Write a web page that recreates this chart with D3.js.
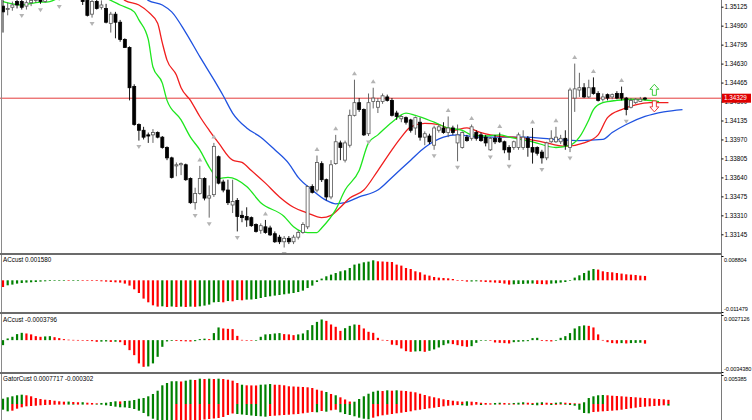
<!DOCTYPE html>
<html>
<head>
<meta charset="utf-8">
<script src="https://cdn.jsdelivr.net/npm/d3@7"></script>
<style>
  body { margin: 0; background: #fff; }
  svg { display: block; font-family: "Liberation Sans", Arial, sans-serif; }
</style>
</head>
<body>
<script>
// price candles, bar 0 is the first bar at the left edge
var opens = [
  1.3513, 1.3510, 1.3512, 1.3517, 1.3517, 1.3513, 1.3516, 1.3518, 1.3521, 1.3517,
  1.3522, 1.3525, 1.3524, 1.3527, 1.3530, 1.3529, 1.3532, 1.3527, 1.3518, 1.3506,
  1.3517, 1.3512, 1.3511, 1.3498, 1.3506, 1.3499, 1.3484, 1.3477, 1.3443, 1.3410,
  1.3405, 1.3401, 1.3401, 1.3403, 1.3399, 1.3390, 1.3381, 1.3374, 1.3375, 1.3375,
  1.3363, 1.3342, 1.3350, 1.3363, 1.3346, 1.3349, 1.3382, 1.3360, 1.3353, 1.3340,
  1.3344, 1.3331, 1.3330, 1.3329, 1.3323, 1.3318, 1.3321, 1.3320, 1.3315, 1.3312,
  1.3308, 1.3311, 1.3308, 1.3312, 1.3316, 1.3321, 1.3356, 1.3353, 1.3376, 1.3362,
  1.3347, 1.3376, 1.3394, 1.3379, 1.3392, 1.3418, 1.3429, 1.3423, 1.3402, 1.3430,
  1.3425, 1.3430, 1.3434, 1.3431, 1.3420, 1.3415, 1.3416, 1.3414, 1.3407, 1.3412,
  1.3399, 1.3400, 1.3392, 1.3405, 1.3407, 1.3403, 1.3407, 1.3394, 1.3390, 1.3399,
  1.3398, 1.3403, 1.3401, 1.3399, 1.3388, 1.3398, 1.3398, 1.3395, 1.3390, 1.3390,
  1.3390, 1.3390, 1.3398, 1.3390, 1.3390, 1.3386, 1.3381, 1.3395, 1.3395, 1.3395,
  1.3398, 1.3390, 1.3433, 1.3440, 1.3442, 1.3434, 1.3442, 1.3437, 1.3432, 1.3436,
  1.3434, 1.3437, 1.3437, 1.3433, 1.3425, 1.3429, 1.3430, 1.34330
];
var highs = [
  1.3527, 1.3516, 1.3517, 1.3523, 1.3521, 1.3518, 1.3522, 1.3525, 1.3525, 1.3524,
  1.3529, 1.3531, 1.3530, 1.3534, 1.3536, 1.3536, 1.3537, 1.3532, 1.3524, 1.3520,
  1.3522, 1.3518, 1.3515, 1.3508, 1.3508, 1.3501, 1.3485, 1.3478, 1.3445, 1.3411,
  1.3408, 1.3403, 1.3406, 1.3404, 1.3400, 1.3391, 1.3382, 1.3377, 1.3377, 1.3376,
  1.3364, 1.3355, 1.3374, 1.3364, 1.3357, 1.3394, 1.3383, 1.3362, 1.3362, 1.3362,
  1.3346, 1.3335, 1.3338, 1.3330, 1.3324, 1.3324, 1.3327, 1.3322, 1.3317, 1.3314,
  1.3313, 1.3313, 1.3314, 1.3318, 1.3325, 1.3357, 1.3358, 1.3383, 1.3378, 1.3363,
  1.3379, 1.3401, 1.3396, 1.3396, 1.3423, 1.3449, 1.3433, 1.3424, 1.3437, 1.3442,
  1.3433, 1.3437, 1.3436, 1.3433, 1.3422, 1.3418, 1.3417, 1.3415, 1.3417, 1.3416,
  1.3404, 1.3402, 1.3409, 1.3410, 1.3412, 1.3417, 1.3409, 1.3410, 1.3404, 1.3401,
  1.3410, 1.3405, 1.3403, 1.3401, 1.3399, 1.3401, 1.3403, 1.3396, 1.3392, 1.3396,
  1.3403, 1.3405, 1.3400, 1.3407, 1.3391, 1.3388, 1.3395, 1.3405, 1.3408, 1.3401,
  1.3405, 1.3442, 1.3463, 1.3455, 1.3446, 1.3449, 1.3451, 1.3439, 1.3437, 1.3437,
  1.3437, 1.3439, 1.3443, 1.3434, 1.3433, 1.3433, 1.3434, 1.3434
];
var lows = [
  1.3490, 1.3505, 1.3509, 1.3511, 1.3510, 1.3510, 1.3513, 1.3516, 1.3515, 1.3516,
  1.3519, 1.3520, 1.3518, 1.3522, 1.3525, 1.3524, 1.3525, 1.3514, 1.3504, 1.3503,
  1.3510, 1.3510, 1.3498, 1.3490, 1.3485, 1.3482, 1.3477, 1.3431, 1.3409, 1.3396,
  1.3397, 1.3394, 1.3394, 1.3398, 1.3389, 1.3379, 1.3363, 1.3365, 1.3366, 1.3361,
  1.3341, 1.3336, 1.3349, 1.3344, 1.3329, 1.3347, 1.3358, 1.3351, 1.3340, 1.3333,
  1.3317, 1.3325, 1.3321, 1.3321, 1.3316, 1.3315, 1.3315, 1.3313, 1.3307, 1.3306,
  1.3303, 1.3306, 1.3306, 1.3310, 1.3315, 1.3319, 1.3350, 1.3351, 1.3360, 1.3344,
  1.3345, 1.3375, 1.3379, 1.3377, 1.3390, 1.3417, 1.3421, 1.3400, 1.3400, 1.3424,
  1.3420, 1.3428, 1.3430, 1.3417, 1.3414, 1.3412, 1.3410, 1.3403, 1.3401, 1.3396,
  1.3392, 1.3393, 1.3388, 1.3403, 1.3402, 1.3399, 1.3401, 1.3378, 1.3389, 1.3395,
  1.3396, 1.3396, 1.3395, 1.3391, 1.3387, 1.3393, 1.3394, 1.3385, 1.3379, 1.3388,
  1.3388, 1.3388, 1.3382, 1.3376, 1.3383, 1.3376, 1.3379, 1.3394, 1.3394, 1.3393,
  1.3388, 1.3386, 1.3421, 1.3434, 1.3433, 1.3433, 1.3436, 1.3430, 1.3430, 1.3431,
  1.3432, 1.3432, 1.3431, 1.3418, 1.3424, 1.3428, 1.3430, 1.3431
];
var closes = [
  1.3508, 1.3511, 1.3514, 1.3514, 1.3512, 1.3516, 1.3518, 1.3520, 1.3517, 1.3522,
  1.3525, 1.3524, 1.3527, 1.3530, 1.3529, 1.3532, 1.3527, 1.3517, 1.3505, 1.3517,
  1.3511, 1.3514, 1.3499, 1.3506, 1.3499, 1.3484, 1.3477, 1.3442, 1.3410, 1.3405,
  1.3399, 1.3400, 1.3403, 1.3399, 1.3390, 1.3381, 1.3364, 1.3375, 1.3376, 1.3362,
  1.3342, 1.3350, 1.3363, 1.3346, 1.3348, 1.3391, 1.3359, 1.3353, 1.3342, 1.3343,
  1.3330, 1.3329, 1.3327, 1.3322, 1.3317, 1.3322, 1.3316, 1.3314, 1.3308, 1.3308,
  1.3311, 1.3308, 1.3312, 1.3316, 1.3323, 1.3356, 1.3351, 1.3377, 1.3362, 1.3347,
  1.3375, 1.3395, 1.3390, 1.3394, 1.3418, 1.3429, 1.3423, 1.3401, 1.3429, 1.3433,
  1.3430, 1.3435, 1.3431, 1.3418, 1.3417, 1.3417, 1.3412, 1.3405, 1.3416, 1.3399,
  1.3402, 1.3395, 1.3407, 1.3408, 1.3403, 1.3407, 1.3403, 1.3401, 1.3403, 1.3396,
  1.3408, 1.3398, 1.3396, 1.3394, 1.3398, 1.3395, 1.3395, 1.3388, 1.3386, 1.3395,
  1.3401, 1.3399, 1.3390, 1.3386, 1.3385, 1.3381, 1.3394, 1.3398, 1.3399, 1.3398,
  1.3392, 1.3440, 1.3441, 1.3442, 1.3434, 1.3442, 1.3437, 1.3431, 1.3434, 1.3433,
  1.3436, 1.3433, 1.3433, 1.3423, 1.3431, 1.3432, 1.3432, 1.34329
];

// alligator lines as [bar, price] (they run past the last bar)
var jawLine = [[29,1.3529],[31,1.3518],[34,1.3514],[36,1.3508],[39,1.3490],[42,1.3469],[45,1.3449],[47,1.3435],[49,1.3420],[52,1.3407],[55,1.3399],[58,1.3388],[61,1.3376],[63,1.3364],[66,1.3353],[69,1.3344],[71,1.3341],[73,1.3342],[76,1.3347],[80,1.3353],[83,1.3364],[87,1.3379],[90,1.3390],[94,1.3399],[97,1.3401],[102,1.3399],[106,1.3399],[111,1.3399],[118,1.3397],[123,1.3396],[128,1.3397],[130,1.3403],[133,1.3410],[137,1.3417],[141,1.3421],[145,1.3423]];
var teethLine = [[24,1.3529],[26,1.3518],[29,1.3514],[31,1.3508],[33,1.3498],[34,1.3481],[35,1.3466],[37,1.3453],[38,1.3442],[40,1.3431],[42,1.3417],[44,1.3405],[46,1.3394],[49,1.3379],[51,1.3377],[53,1.3370],[56,1.3359],[59,1.3347],[62,1.3338],[65,1.3333],[68,1.3329],[70,1.3331],[72,1.3338],[74,1.3346],[77,1.3353],[80,1.3370],[83,1.3388],[85,1.3399],[87,1.3408],[90,1.3411],[93,1.3410],[96,1.3405],[99,1.3407],[102,1.3403],[104,1.3401],[111,1.3398],[115,1.3395],[120,1.3391],[124,1.3394],[127,1.3401],[129,1.3416],[132,1.3423],[135,1.3427],[138,1.3429],[142,1.3429]];
var lipsLine = [[0,1.3517],[4,1.3514],[7,1.3516],[10,1.3517],[13,1.3522],[19,1.3524],[23,1.3518],[25,1.3514],[28,1.3508],[29,1.3501],[31,1.3484],[32,1.3460],[34,1.3446],[35,1.3431],[38,1.3414],[40,1.3399],[42,1.3388],[44,1.3373],[46,1.3363],[48,1.3364],[52,1.3356],[55,1.3342],[60,1.3330],[62,1.3321],[65,1.3316],[67,1.3316],[68,1.3320],[71,1.3336],[73,1.3353],[76,1.3370],[78,1.3394],[80,1.3401],[83,1.3412],[86,1.3420],[88,1.3418],[92,1.3412],[95,1.3407],[98,1.3405],[100,1.3401],[103,1.3400],[106,1.3401],[108,1.3399],[113,1.3395],[118,1.3390],[121,1.3392],[123,1.3399],[125,1.3414],[126,1.3423],[128,1.3429],[131,1.3431],[134,1.3432],[140,1.3430]];

// fractal bars
var fractalUpBars = [42, 45, 56, 67, 71, 75, 79, 95, 100, 106, 113, 118, 122, 126, 132];
var fractalDownBars = [4, 8, 12, 19, 29, 41, 44, 50, 60, 78, 92, 97, 104, 108, 115, 121, 133];

// signal arrows
var signalBars = [139, 139];
var signalPrices = [1.3445, 1.3421];
var signalDirs = ['up', 'down'];

var priceTicks = [1.35125, 1.34960, 1.34795, 1.34630, 1.34465, 1.34300, 1.34135, 1.33970, 1.33805, 1.33640, 1.33475, 1.33310, 1.33145];

// ACcust (first window)
var ac1 = [
  -0.00243, -0.00181, -0.00156, -0.00120, -0.00098, -0.00083, -0.00072, -0.00062, -0.00047, -0.00036,
  -0.00025, -0.00018, -0.00014, -0.00011, -0.00009, -0.00007, -0.00005, -0.00007, -0.00009, -0.00014,
  -0.00025, -0.00036, -0.00047, -0.00062, -0.00072, -0.00083, -0.00120, -0.00192, -0.00326, -0.00460,
  -0.00663, -0.00797, -0.00906, -0.00953, -0.00942, -0.00967, -0.00949, -0.00967, -0.00953, -0.00967,
  -0.00953, -0.00960, -0.00942, -0.00916, -0.00880, -0.00797, -0.00786, -0.00797, -0.00750, -0.00761,
  -0.00714, -0.00724, -0.00699, -0.00695, -0.00677, -0.00641, -0.00605, -0.00580, -0.00554, -0.00532,
  -0.00507, -0.00482, -0.00460, -0.00424, -0.00373, -0.00279, -0.00192, -0.00062, 0.00062, 0.00145,
  0.00206, 0.00264, 0.00326, 0.00362, 0.00446, 0.00569, 0.00605, 0.00652, 0.00677, 0.00724,
  0.00688, 0.00681, 0.00670, 0.00663, 0.00569, 0.00532, 0.00446, 0.00409, 0.00326, 0.00290,
  0.00206, 0.00170, 0.00120, 0.00098, 0.00083, 0.00072, 0.00047, 0.00011, -0.00025, -0.00047,
  -0.00043, -0.00036, -0.00047, -0.00062, -0.00072, -0.00083, -0.00098, -0.00120, -0.00156, -0.00145,
  -0.00134, -0.00130, -0.00120, -0.00116, -0.00134, -0.00138, -0.00145, -0.00120, -0.00109, -0.00083,
  -0.00062, -0.00011, 0.00098, 0.00181, 0.00264, 0.00351, 0.00409, 0.00388, 0.00326, 0.00301,
  0.00290, 0.00264, 0.00243, 0.00217, 0.00206, 0.00192, 0.00170, 0.00158
];
var ac1ColorRuns = [['r',1],['g',13],['r',1],['g',2],['r',17],['g',1],['r',1],['g',1],['r',1],['g',1],['r',1],['g',1],['r',1],['g',5],['r',1],['g',1],['r',1],['g',1],['r',1],['g',28],['r',20],['g',2],['r',7],['g',5],['r',3],['g',10],['r',11]];
var ac1Ticks = [0.008804, -0.011479];

// ACcust (second window)
var ac2 = [
  -0.00054, 0.00018, 0.00036, 0.00065, 0.00079, 0.00072, 0.00062, 0.00043, 0.00036, 0.00040,
  0.00043, 0.00032, 0.00022, 0.00011, 0.00005, 0.00003, 0.00002, -0.00003, -0.00008, -0.00011,
  -0.00018, -0.00016, -0.00014, -0.00019, -0.00017, -0.00022, -0.00054, -0.00108, -0.00162, -0.00251,
  -0.00288, -0.00284, -0.00251, -0.00180, -0.00072, -0.00014, -0.00008, -0.00009, -0.00011, -0.00013,
  -0.00015, -0.00011, 0.00011, 0.00016, 0.00011, 0.00076, 0.00137, 0.00126, 0.00122, 0.00119,
  0.00046, 0.00003, -0.00003, -0.00004, -0.00003, 0.00036, 0.00062, 0.00065, 0.00072, 0.00076,
  0.00065, 0.00062, 0.00054, 0.00062, 0.00072, 0.00108, 0.00162, 0.00197, 0.00223, 0.00208,
  0.00169, 0.00144, 0.00100, 0.00129, 0.00154, 0.00169, 0.00165, 0.00126, 0.00090, 0.00079,
  0.00025, 0.00003, -0.00008, -0.00049, -0.00054, -0.00090, -0.00119, -0.00126, -0.00122, -0.00119,
  -0.00126, -0.00115, -0.00100, -0.00079, -0.00054, -0.00036, -0.00043, -0.00054, -0.00065, -0.00072,
  -0.00065, -0.00029, -0.00003, -0.00002, -0.00004, -0.00025, -0.00029, -0.00032, -0.00036, -0.00022,
  -0.00018, -0.00014, -0.00011, 0.00022, 0.00025, -0.00008, -0.00011, -0.00014, -0.00003, 0.00025,
  0.00043, 0.00076, 0.00126, 0.00151, 0.00159, 0.00154, 0.00137, 0.00062, 0.00002, -0.00022,
  -0.00032, -0.00036, -0.00032, -0.00036, -0.00032, -0.00030, -0.00028, -0.0003796
];
var ac2ColorRuns = [['g',5],['r',4],['g',2],['r',10],['g',2],['r',1],['g',1],['r',6],['g',6],['r',4],['g',3],['r',1],['g',2],['r',7],['g',6],['r',3],['g',6],['r',4],['g',3],['r',12],['g',2],['r',1],['g',5],['r',4],['g',4],['r',5],['g',6],['r',3],['g',7],['r',7],['g',1],['r',1],['g',3],['r',1]];
var ac2Ticks = [0.0027126, -0.0034380];

// GatorCust
var gatorUp = [
  0.00098, 0.00124, 0.00143, 0.00162, 0.00173, 0.00162, 0.00143, 0.00111, 0.00093, 0.00080,
  0.00074, 0.00061, 0.00050, 0.00043, 0.00045, 0.00037, 0.00032, 0.00033, 0.00024, 0.00019,
  0.00013, 0.00019, 0.00024, 0.00037, 0.00050, 0.00048, 0.00056, 0.00061, 0.00074, 0.00098,
  0.00111, 0.00143, 0.00186, 0.00247, 0.00347, 0.00390, 0.00422, 0.00423, 0.00418, 0.00433,
  0.00451, 0.00446, 0.00470, 0.00464, 0.00470, 0.00464, 0.00470, 0.00464, 0.00451, 0.00433,
  0.00390, 0.00358, 0.00347, 0.00345, 0.00344, 0.00358, 0.00362, 0.00371, 0.00358, 0.00356,
  0.00347, 0.00329, 0.00325, 0.00321, 0.00316, 0.00310, 0.00297, 0.00266, 0.00247, 0.00223,
  0.00186, 0.00162, 0.00124, 0.00084, 0.00046, 0.00043, 0.00093, 0.00143, 0.00191, 0.00228,
  0.00247, 0.00241, 0.00254, 0.00247, 0.00254, 0.00247, 0.00241, 0.00228, 0.00217, 0.00191,
  0.00167, 0.00143, 0.00124, 0.00106, 0.00087, 0.00074, 0.00061, 0.00050, 0.00043, 0.00050,
  0.00043, 0.00037, 0.00024, 0.00019, 0.00013, 0.00019, 0.00024, 0.00019, 0.00013, 0.00019,
  0.00024, 0.00032, 0.00024, 0.00019, 0.00024, 0.00032, 0.00024, 0.00019, 0.00024, 0.00032,
  0.00024, 0.00019, 0.00013, 0.00009, 0.00032, 0.00111, 0.00143, 0.00162, 0.00167, 0.00162,
  0.00154, 0.00149, 0.00143, 0.00136, 0.00130, 0.00124, 0.00117, 0.00111, 0.00106, 0.00098,
  0.00093, 0.00087, 0.0007717
];
var gatorDown = [
  -0.00106, -0.00136, -0.00124, -0.00087, -0.00061, -0.00043, -0.00037, -0.00032, -0.00024, -0.00019,
  -0.00015, -0.00013, -0.00011, -0.00009, -0.00009, -0.00011, -0.00009, -0.00009, -0.00007, -0.00007,
  -0.00009, -0.00013, -0.00024, -0.00037, -0.00050, -0.00061, -0.00063, -0.00074, -0.00093, -0.00124,
  -0.00167, -0.00228, -0.00273, -0.00297, -0.00316, -0.00334, -0.00344, -0.00340, -0.00334, -0.00325,
  -0.00316, -0.00306, -0.00297, -0.00288, -0.00279, -0.00269, -0.00260, -0.00241, -0.00204, -0.00176,
  -0.00186, -0.00195, -0.00204, -0.00214, -0.00223, -0.00228, -0.00236, -0.00223, -0.00217, -0.00210,
  -0.00204, -0.00199, -0.00191, -0.00186, -0.00173, -0.00162, -0.00149, -0.00154, -0.00130, -0.00143,
  -0.00117, -0.00106, -0.00154, -0.00186, -0.00204, -0.00228, -0.00254, -0.00273, -0.00284, -0.00254,
  -0.00228, -0.00210, -0.00199, -0.00186, -0.00173, -0.00162, -0.00149, -0.00136, -0.00117, -0.00106,
  -0.00093, -0.00080, -0.00069, -0.00056, -0.00043, -0.00032, -0.00024, -0.00019, -0.00024, -0.00032,
  -0.00024, -0.00013, -0.00019, -0.00013, -0.00009, -0.00011, -0.00009, -0.00007, -0.00011, -0.00009,
  -0.00011, -0.00009, -0.00007, -0.00019, -0.00024, -0.00019, -0.00013, -0.00019, -0.00015, -0.00009,
  -0.00013, -0.00019, -0.00032, -0.00106, -0.00167, -0.00173, -0.00149, -0.00143, -0.00136, -0.00130,
  -0.00124, -0.00117, -0.00106, -0.00093, -0.00080, -0.00069, -0.00056, -0.00050, -0.00043, -0.00037,
  -0.00032, -0.00024, -0.000302
];
var gatorUpColorRuns = [['g',5],['r',9],['g',1],['r',2],['g',1],['r',3],['g',4],['r',1],['g',12],['r',1],['g',2],['r',1],['g',1],['r',1],['g',1],['r',1],['g',1],['r',4],['g',1],['r',3],['g',3],['r',11],['g',1],['r',1],['g',1],['r',3],['g',6],['r',1],['g',1],['r',1],['g',1],['r',14],['g',1],['r',5],['g',2],['r',2],['g',3],['r',2],['g',2],['r',2],['g',2],['r',4],['g',5],['r',14]];
var gatorDownColorRuns = [['g',2],['r',12],['g',2],['r',1],['g',1],['r',2],['g',17],['r',13],['g',7],['r',10],['g',1],['r',1],['g',1],['r',2],['g',7],['r',19],['g',2],['r',2],['g',1],['r',2],['g',1],['r',2],['g',1],['r',1],['g',1],['r',2],['g',2],['r',2],['g',1],['r',2],['g',6],['r',16],['g',1]];
var gatorTicks = [0.005385];

var W = 752, H = 420, axisX = 721;
var FONT = '"Liberation Sans", Arial, sans-serif';
var GREEN = '#008000', RED = '#ff0000';

var svg = d3.select('body').append('svg').attr('width', W).attr('height', H);
var defs = svg.append('defs');

var x = d3.scaleLinear().domain([0, 137]).range([3, 645]);
var yPrice = d3.scaleLinear().domain([1.33145, 1.35125]).range([234.3, 6.7]);
var yAc1 = d3.scaleLinear().domain([-0.011479, 0.008804]).range([312, 256]);
var yAc2 = d3.scaleLinear().domain([-0.0034380, 0.0027126]).range([372, 315]);
var yGator = d3.scaleLinear().domain([-0.005385, 0.005385]).range([433, 375]);

function expandRuns(runs) {
  return runs.map(function(r) { return r[0].repeat(r[1]); }).join('');
}

// one clipped group per window
function pane(id, y0, y1) {
  defs.append('clipPath').attr('id', id).append('rect')
    .attr('x', 0).attr('y', y0).attr('width', axisX).attr('height', y1 - y0);
  return svg.append('g').attr('clip-path', 'url(#' + id + ')');
}
var mainG = pane('cMain', 0, 253);
var p1G = pane('cP1', 255, 312);
var p2G = pane('cP2', 314, 372);
var p3G = pane('cP3', 374, 420);

// current price line
var last = closes[closes.length - 1];
mainG.append('line')
  .attr('x1', 0).attr('x2', axisX)
  .attr('y1', yPrice(last)).attr('y2', yPrice(last))
  .attr('stroke', '#e43c3c').attr('stroke-width', 1);

// alligator
var line = d3.line()
  .x(function(d) { return x(d[0]); })
  .y(function(d) { return yPrice(d[1]); })
  .curve(d3.curveMonotoneX);
[[jawLine, '#1f52e0'], [teethLine, '#f01e1e'], [lipsLine, '#1ee61e']].forEach(function(l) {
  mainG.append('path').attr('d', line(l[0]))
    .attr('fill', 'none').attr('stroke', l[1]).attr('stroke-width', 1.3);
});

// candles
var candles = opens.map(function(o, i) {
  return { i: i, o: o, h: highs[i], l: lows[i], c: closes[i] };
});
var cg = mainG.append('g');
cg.selectAll('line').data(candles).enter().append('line')
  .attr('x1', function(d) { return x(d.i); })
  .attr('x2', function(d) { return x(d.i); })
  .attr('y1', function(d) { return yPrice(d.h); })
  .attr('y2', function(d) { return yPrice(d.l); })
  .attr('stroke', function(d) { return d.c >= d.o ? '#555' : '#000'; })
  .attr('stroke-width', 0.9);
cg.selectAll('rect').data(candles).enter().append('rect')
  .attr('x', function(d) { return x(d.i) - 1.5; })
  .attr('width', 3)
  .attr('y', function(d) { return yPrice(Math.max(d.o, d.c)); })
  .attr('height', function(d) { return Math.max(1, Math.abs(yPrice(d.o) - yPrice(d.c))); })
  .attr('fill', function(d) { return d.c >= d.o ? '#fff' : '#000'; })
  .attr('stroke', function(d) { return d.c >= d.o ? '#555' : '#000'; })
  .attr('stroke-width', 0.8);

// fractals
mainG.selectAll('path.fu').data(fractalUpBars).enter().append('path')
  .attr('class', 'fu')
  .attr('d', function(i) {
    var cx = x(i), cy = yPrice(highs[i]) - 6;
    return 'M' + cx + ',' + (cy - 2.5) + 'L' + (cx + 2.5) + ',' + (cy + 1.5) + 'L' + (cx - 2.5) + ',' + (cy + 1.5) + 'Z';
  })
  .attr('fill', '#b4b4b4');
mainG.selectAll('path.fd').data(fractalDownBars).enter().append('path')
  .attr('class', 'fd')
  .attr('d', function(i) {
    var cx = x(i), cy = yPrice(lows[i]) + 6;
    return 'M' + cx + ',' + (cy + 2.5) + 'L' + (cx + 2.5) + ',' + (cy - 1.5) + 'L' + (cx - 2.5) + ',' + (cy - 1.5) + 'Z';
  })
  .attr('fill', '#b4b4b4');

// signal arrows (hollow)
signalBars.forEach(function(b, k) {
  var cx = x(b), ty = yPrice(signalPrices[k]);
  var s = signalDirs[k] === 'up' ? 1 : -1;
  var d = 'M' + cx + ',' + ty +
    'L' + (cx + 4.5) + ',' + (ty + s * 5) + 'L' + (cx + 2) + ',' + (ty + s * 5) +
    'L' + (cx + 2) + ',' + (ty + s * 11) + 'L' + (cx - 2) + ',' + (ty + s * 11) +
    'L' + (cx - 2) + ',' + (ty + s * 5) + 'L' + (cx - 4.5) + ',' + (ty + s * 5) + 'Z';
  mainG.append('path').attr('d', d).attr('fill', '#fff')
    .attr('stroke', s > 0 ? '#3ccc3c' : '#ee3a3a').attr('stroke-width', 1);
});

// histograms
function histogram(g, values, colors, y) {
  g.append('g').selectAll('rect').data(values).enter().append('rect')
    .attr('x', function(d, i) { return x(i) - 1.1; })
    .attr('width', 2.2)
    .attr('y', function(d) { return Math.min(y(d), y(0)); })
    .attr('height', function(d) { return Math.max(0.6, Math.abs(y(d) - y(0))); })
    .attr('fill', function(d, i) { return colors[i] === 'g' ? GREEN : RED; });
}
histogram(p1G, ac1, expandRuns(ac1ColorRuns), yAc1);
histogram(p2G, ac2, expandRuns(ac2ColorRuns), yAc2);
histogram(p3G, gatorUp, expandRuns(gatorUpColorRuns), yGator);
histogram(p3G, gatorDown, expandRuns(gatorDownColorRuns), yGator);

// window titles
function title(txt, yy) {
  svg.append('text').attr('x', 3).attr('y', yy).text(txt)
    .attr('font-size', 6.3).attr('font-family', FONT).attr('fill', '#000');
}
title('ACcust ' + ac1[ac1.length - 1].toFixed(6), 262);
title('ACcust ' + ac2[ac2.length - 1].toFixed(7), 321.5);
title('GatorCust ' + gatorUp[gatorUp.length - 1].toFixed(7) + ' ' + gatorDown[gatorDown.length - 1].toFixed(6), 381);

// borders and separators
svg.append('line').attr('x1', 1.5).attr('x2', 1.5).attr('y1', 0).attr('y2', H)
  .attr('stroke', '#8a8a8a').attr('stroke-width', 1);
[253, 312, 372].forEach(function(yy) {
  svg.append('rect').attr('x', 0).attr('y', yy).attr('width', axisX).attr('height', 2).attr('fill', '#6b6b6b');
});
svg.append('line').attr('x1', axisX + 0.5).attr('x2', axisX + 0.5).attr('y1', 0).attr('y2', H)
  .attr('stroke', '#7a7a7a').attr('stroke-width', 1);

// price axis
var pa = svg.append('g').attr('transform', 'translate(' + (axisX + 0.5) + ',0)')
  .call(d3.axisRight(yPrice).tickValues(priceTicks).tickSize(2).tickPadding(1)
    .tickFormat(function(d) { return d.toFixed(5); }));
pa.select('.domain').remove();
pa.attr('font-size', 6.3).attr('font-family', FONT);

// window axes: max label under the top edge, min label above the bottom edge
function sideAxis(y, ticks, digits) {
  var g = svg.append('g').attr('transform', 'translate(' + (axisX + 0.5) + ',0)')
    .call(d3.axisRight(y).tickValues(ticks).tickSize(2).tickPadding(0.5)
      .tickFormat(function(d) { return d.toFixed(digits); }));
  g.select('.domain').remove();
  g.attr('font-size', 5.6).attr('font-family', FONT).attr('letter-spacing', -0.1);
  g.selectAll('text').attr('dy', function(d) { return d > 0 ? '0.95em' : '-0.25em'; });
}
sideAxis(yAc1, ac1Ticks, 6);
sideAxis(yAc2, ac2Ticks, 7);
sideAxis(yGator, gatorTicks, 6);

// current price tag
var tagY = yPrice(last);
svg.append('rect').attr('x', axisX + 1).attr('y', tagY - 4.5).attr('width', 29).attr('height', 9)
  .attr('fill', '#e00000');
svg.append('text').attr('x', axisX + 3).attr('y', tagY + 2.2).text(last.toFixed(5))
  .attr('font-size', 6.3).attr('font-family', FONT).attr('fill', '#fff');
</script>
</body>
</html>
